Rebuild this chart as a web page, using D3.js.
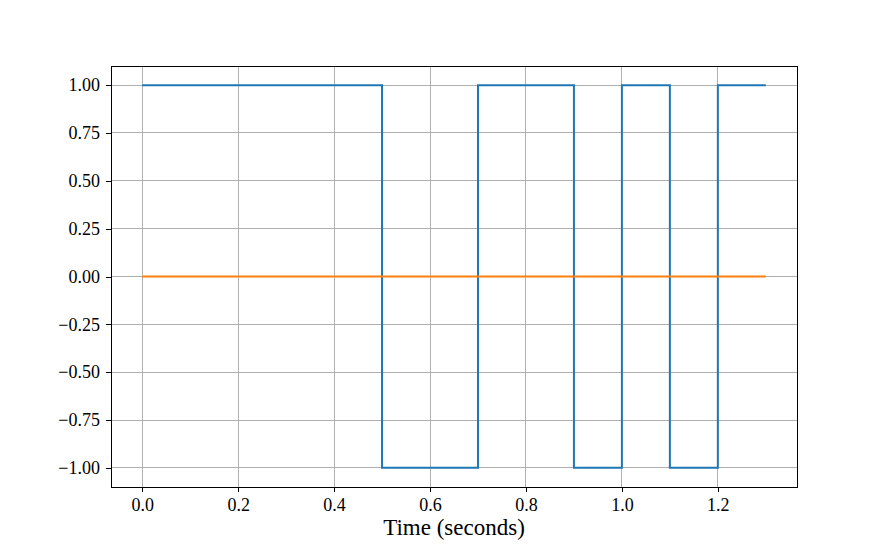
<!DOCTYPE html>
<html>
<head>
<meta charset="utf-8">
<script src="https://cdn.jsdelivr.net/npm/d3@7"></script>
<style>
  body { margin: 0; background: #fff; }
  text { font-family: "Liberation Serif", "DejaVu Serif", serif; fill: #000; }
</style>
</head>
<body>
<div id="chart"></div>
<script>
// square wave: value holds from t until next t
const stepTimes = [0, 0.5, 0.7, 0.9, 1.0, 1.1, 1.2, 1.3];
const stepValues = [1, -1, 1, -1, 1, -1, 1, 1];
const flatTimes = [0, 1.3];
const flatValues = [0, 0];
const xTicks = [0, 0.2, 0.4, 0.6, 0.8, 1.0, 1.2];
const yTicks = [-1, -0.75, -0.5, -0.25, 0, 0.25, 0.5, 0.75, 1];

let margin = {top: 66, right: 88, bottom: 60, left: 111};
let width = 885 - margin.left - margin.right;
let height = 547 - margin.top - margin.bottom;

let svg = d3.select("#chart").append("svg")
    .attr("width", 885)
    .attr("height", 547)
    .append("g")
    .attr("transform", `translate(${margin.left},${margin.top})`);

let x = d3.scaleLinear().domain([-0.065, 1.365]).range([0, width]);
let y = d3.scaleLinear().domain([-1.1, 1.1]).range([height, 0]);

// grid
svg.append("g").selectAll("line")
    .data(xTicks).enter().append("line")
    .attr("x1", d => x(d)).attr("x2", d => x(d))
    .attr("y1", 0).attr("y2", height)
    .attr("stroke", "#b0b0b0").attr("stroke-width", 1)
    .attr("shape-rendering", "crispEdges");
svg.append("g").selectAll("line")
    .data(yTicks).enter().append("line")
    .attr("y1", d => y(d)).attr("y2", d => y(d))
    .attr("x1", 0).attr("x2", width)
    .attr("stroke", "#b0b0b0").attr("stroke-width", 1)
    .attr("shape-rendering", "crispEdges");

let fmtMinus = s => s.replace("-", "\u2212");

// axes
let xAxis = svg.append("g")
    .attr("transform", `translate(0,${height})`)
    .call(d3.axisBottom(x).tickValues(xTicks).tickSize(5).tickPadding(6)
        .tickFormat(d => d3.format(".1f")(d)));
let yAxis = svg.append("g")
    .call(d3.axisLeft(y).tickValues(yTicks).tickSize(5).tickPadding(6)
        .tickFormat(d => fmtMinus(d3.format(".2f")(d))));
[xAxis, yAxis].forEach(a => {
    a.select(".domain").remove();
    a.selectAll("line").attr("stroke", "#000").attr("stroke-width", 1)
        .attr("shape-rendering", "crispEdges");
    a.selectAll("text").style("font-size", "18px")
        .style("font-family", '"Liberation Serif", "DejaVu Serif", serif');
});

// lines
let line = d3.line().x(d => x(d[0])).y(d => y(d[1]));
svg.append("path")
    .datum(stepTimes.map((t, i) => [t, stepValues[i]]))
    .attr("d", line.curve(d3.curveStepAfter))
    .attr("fill", "none").attr("stroke", "#1f77b4").attr("stroke-width", 2);
svg.append("path")
    .datum(flatTimes.map((t, i) => [t, flatValues[i]]))
    .attr("d", d3.line().x(d => x(d[0])).y(d => y(d[1])))
    .attr("fill", "none").attr("stroke", "#ff7f0e").attr("stroke-width", 2);

// frame
svg.append("rect")
    .attr("width", width).attr("height", height)
    .attr("fill", "none").attr("stroke", "#000").attr("stroke-width", 1)
    .attr("shape-rendering", "crispEdges");

// x label
svg.append("text")
    .attr("x", width / 2).attr("y", height + 48)
    .attr("text-anchor", "middle")
    .style("font-size", "23px")
    .text("Time (seconds)");
</script>
</body>
</html>
